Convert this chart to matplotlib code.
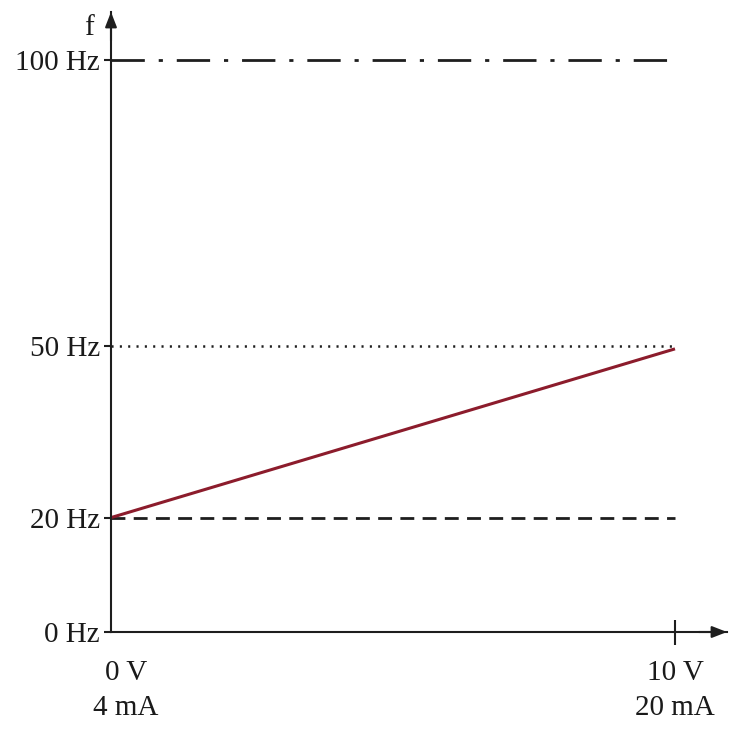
import matplotlib
matplotlib.use("Agg")
import matplotlib.pyplot as plt
from matplotlib.transforms import ScaledTranslation

# Data
x_ticks = [0, 10]
x_tick_labels = ["0 V\n4 mA", "10 V\n20 mA"]
y_ticks = [0, 20, 50, 100]
y_tick_labels = ["0 Hz", "20 Hz", "50 Hz", "100 Hz"]
ramp_x = [0, 10]
ramp_f = [20, 49.5]
f_min, f_mid, f_max = 20, 50, 100
line_x = [0, 10]

plt.rcParams['font.family'] = ['Liberation Serif', 'DejaVu Serif']
plt.rcParams['lines.scale_dashes'] = False

W, H = 733, 743
fig = plt.figure(figsize=(W / 100, H / 100), dpi=100)
x0, y0 = 111, 632
x1, y1 = 727, 12
ax = fig.add_axes([x0 / W, (H - y0) / H, (x1 - x0) / W, (y0 - y1) / H])
xmax = (x1 - x0) / 56.4
ymax = (y0 - y1) / 5.72
ax.set_xlim(0, xmax)
ax.set_ylim(0, ymax)

axis_col = '#1e1e1e'
for s in ['top', 'right']:
    ax.spines[s].set_visible(False)
for s in ['left', 'bottom']:
    ax.spines[s].set_linewidth(1.5)
    ax.spines[s].set_color(axis_col)

# arrows
arrow_kw = dict(arrowstyle='-|>,head_length=0.9,head_width=0.35', color=axis_col,
                lw=1.5, shrinkA=0, shrinkB=0)
ax.annotate('', xy=(xmax, 0), xytext=(xmax - 0.5, 0), arrowprops=arrow_kw,
            annotation_clip=False)
ax.annotate('', xy=(0, ymax), xytext=(0, ymax - 5), arrowprops=arrow_kw,
            annotation_clip=False)

# reference lines
ax.plot(line_x, [f_max, f_max], color=axis_col, lw=2,
        dashes=(24, 10, 3, 10), clip_on=False)
ax.plot(line_x, [f_mid, f_mid], color=axis_col, lw=1.8,
        dashes=(1.5, 4.5), clip_on=False)
ax.plot(line_x, [f_min, f_min], color=axis_col, lw=2,
        dashes=(10, 6), clip_on=False)

# ramp
ax.plot(ramp_x, ramp_f, color='#8c1c2c', lw=2.2, solid_capstyle='butt')

ax.set_yticks(y_ticks)
ax.set_yticklabels(y_tick_labels, fontsize=21)
ax.tick_params(axis='y', direction='out', length=5, width=1.5, pad=3,
               color=axis_col, labelcolor='#1a1a1a')

ax.set_xticks(x_ticks)
ax.set_xticklabels(x_tick_labels, fontsize=21, linespacing=1.45)
ax.tick_params(axis='x', direction='inout', length=18, width=1.5, pad=11,
               color=axis_col, labelcolor='#1a1a1a')
ax.xaxis.get_major_ticks()[0].tick1line.set_visible(False)
lbl0 = ax.get_xticklabels()[0]
lbl0.set_transform(lbl0.get_transform() + ScaledTranslation(0.15, 0, fig.dpi_scale_trans))

ax.text(-22 / 56.4, ymax - 0.5, "f", fontsize=21, ha='center', va='top',
        color='#1a1a1a')

fig.savefig("out.png", dpi=100)
